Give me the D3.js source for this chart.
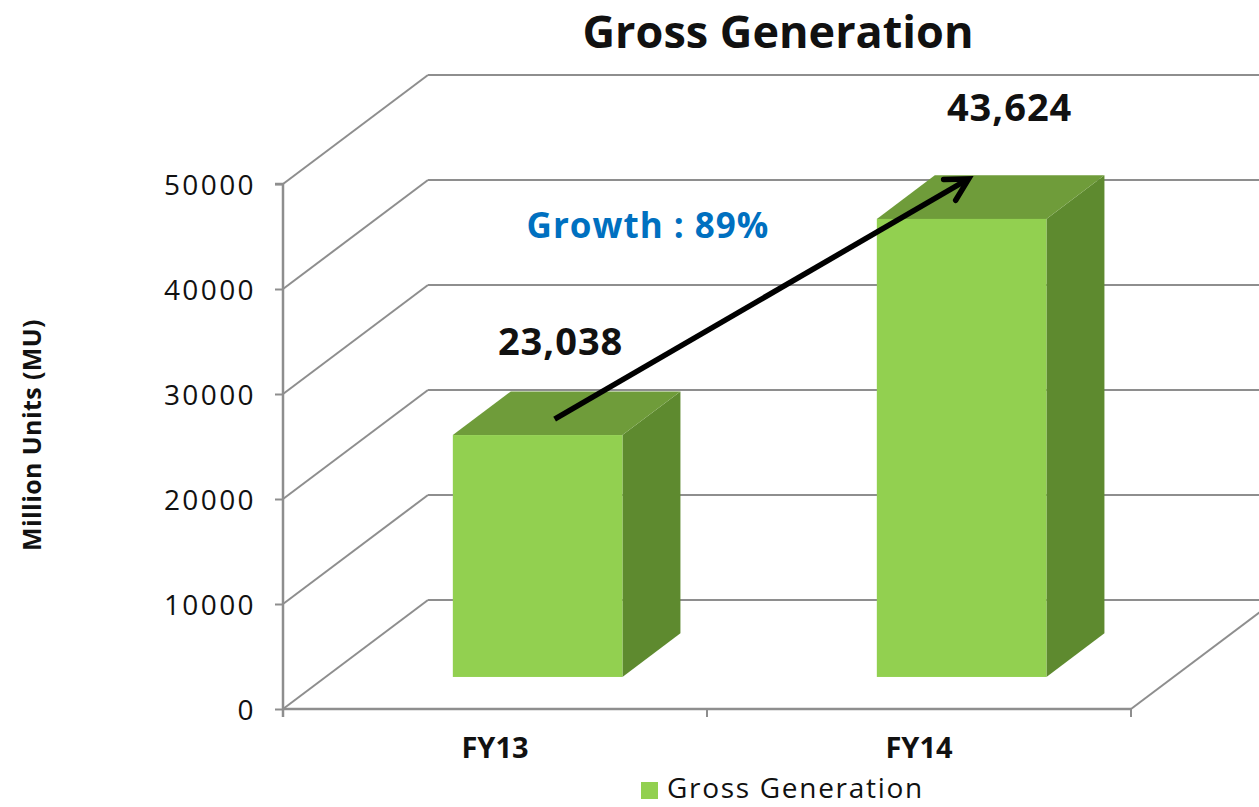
<!DOCTYPE html>
<html>
<head>
<meta charset="utf-8">
<script src="https://cdn.jsdelivr.net/npm/d3@7/dist/d3.min.js"></script>
<style>
  html, body { margin: 0; padding: 0; background: #fff; }
  svg { display: block; }
  text { font-family: "Open Sans", "DejaVu Sans", sans-serif; }
</style>
</head>
<body>
<svg id="chart" width="1259" height="807"></svg>
<script>
// ---- data ----
const categories = ["FY13", "FY14"];
const values = [23038, 43624];
const valueLabels = ["23,038", "43,624"];
const yTicks = [0, 10000, 20000, 30000, 40000, 50000];
const seriesName = "Gross Generation";
const titleText = "Gross Generation";
const yAxisTitle = "Million Units (MU)";
const growthText = "Growth : 89%";

// ---- layout ----
const W = 1259, H = 807;
const svg = d3.select("#chart");

const x = d3.scaleBand().domain(categories).range([283, 1131]).padding(0);
const y = d3.scaleLinear().domain([0, 50000]).range([709, 184]);
const DX = 145, DY = -109;           // full depth offset (oblique projection)
const f1 = 0.294, f2 = 0.694;        // bar depth front/back fractions
const barFrac = 0.4;

const gridColor = "#8e8e8e";
const frontColor = "#92D050";
const topColor = "#6f9c3a";
const sideColor = "#5e8a2f";

svg.append("defs").append("clipPath").attr("id", "c")
  .append("rect").attr("x", 0).attr("y", 0).attr("width", W).attr("height", H);

const g = svg.append("g").attr("clip-path", "url(#c)");

// back wall gridlines + side wall diagonals
const x0 = x.range()[0], x1 = x.range()[1];
yTicks.forEach(t => {
  g.append("line")
    .attr("x1", x0 + DX).attr("y1", y(t) + DY)
    .attr("x2", x1 + DX).attr("y2", y(t) + DY)
    .attr("stroke", gridColor).attr("stroke-width", 2);
  g.append("line")
    .attr("x1", x0).attr("y1", y(t))
    .attr("x2", x0 + DX).attr("y2", y(t) + DY)
    .attr("stroke", gridColor).attr("stroke-width", 2);
});

// floor front edge & right edge
g.append("line").attr("x1", x0).attr("y1", y(0)).attr("x2", x1).attr("y2", y(0))
  .attr("stroke", gridColor).attr("stroke-width", 2.5);
g.append("line").attr("x1", x1).attr("y1", y(0)).attr("x2", x1 + DX).attr("y2", y(0) + DY)
  .attr("stroke", gridColor).attr("stroke-width", 2);

// category tick marks
[x0, x0 + x.bandwidth(), x1].forEach(px => {
  g.append("line").attr("x1", px).attr("y1", y(0)).attr("x2", px).attr("y2", y(0) + 8)
    .attr("stroke", gridColor).attr("stroke-width", 2);
});

// y axis
const yAxis = d3.axisLeft(y).tickValues(yTicks).tickSize(8).tickPadding(19)
  .tickFormat(d3.format("d"));
const ya = svg.append("g").attr("transform", `translate(${x0},0)`).call(yAxis);
ya.select(".domain").attr("stroke", gridColor).attr("stroke-width", 2.5)
  .attr("d", `M-8,${y(50000)}H0V${y(0) + 8}`);
ya.selectAll(".tick line").attr("stroke", gridColor).attr("stroke-width", 2);
ya.selectAll(".tick text")
  .attr("font-size", 28).attr("fill", "#111").attr("letter-spacing", "2.4px")
  .attr("font-family", "'Open Sans', sans-serif").attr("dy", "0.36em");

// bars
const bw = x.bandwidth() * barFrac;
const ddx = (f2 - f1) * DX, ddy = (f2 - f1) * DY;
const bars = g.selectAll(".bar").data(categories.map((c, i) => ({ c, v: values[i], i })))
  .enter().append("g").attr("class", "bar");

bars.each(function (d) {
  const gg = d3.select(this);
  const xl = x(d.c) + (x.bandwidth() - bw) / 2 + DX * f1;
  const xr = xl + bw;
  const yb = y(0) + DY * f1;
  const yt = y(d.v) + DY * f1;
  // side
  gg.append("path")
    .attr("d", `M${xr},${yt}L${xr + ddx},${yt + ddy}L${xr + ddx},${yb + ddy}L${xr},${yb}Z`)
    .attr("fill", sideColor);
  // top
  gg.append("path")
    .attr("d", `M${xl},${yt}L${xr},${yt}L${xr + ddx},${yt + ddy}L${xl + ddx},${yt + ddy}Z`)
    .attr("fill", topColor);
  // front
  gg.append("rect").attr("x", xl).attr("y", yt).attr("width", bw).attr("height", yb - yt)
    .attr("fill", frontColor);
});

// category labels
svg.selectAll(".cat").data(categories).enter().append("text")
  .attr("x", d => x(d) + x.bandwidth() / 2)
  .attr("y", 758)
  .attr("text-anchor", "middle")
  .attr("font-size", 29).attr("font-weight", "bold").attr("fill", "#111")
  .text(d => d);

// data labels (manually placed above bars in the original)
const labelDx = [23, 48];
const labelDy = [-80, -98];
svg.selectAll(".vlab").data(values).enter().append("text")
  .attr("x", (d, i) => x(categories[i]) + x.bandwidth() / 2 + DX * f1 + labelDx[i])
  .attr("y", (d, i) => y(d) + DY * f1 + labelDy[i])
  .attr("text-anchor", "middle")
  .attr("font-size", 38).attr("font-weight", "bold").attr("fill", "#111")
  .attr("letter-spacing", "1px")
  .text((d, i) => valueLabels[i]);

// growth arrow
const topCenter = i => {
  const xl = x(categories[i]) + (x.bandwidth() - bw) / 2 + DX * f1;
  return [xl + bw / 2, y(values[i]) + DY * f1];
};
const s = topCenter(0), e = topCenter(1);
const sx = s[0] + 17, sy = s[1] - 16;
const ex = e[0] + 7, ey = e[1] - 40;
svg.append("line").attr("x1", sx).attr("y1", sy).attr("x2", ex - 4).attr("y2", ey + 2.3)
  .attr("stroke", "#000").attr("stroke-width", 5.5);
const ang = Math.atan2(ey - sy, ex - sx);
const hl = 25, ha = 0.5;
const p1 = [ex - hl * Math.cos(ang - ha), ey - hl * Math.sin(ang - ha)];
const p2 = [ex - hl * Math.cos(ang + ha), ey - hl * Math.sin(ang + ha)];
svg.append("path")
  .attr("d", `M${p1[0]},${p1[1]}L${ex},${ey}L${p2[0]},${p2[1]}`)
  .attr("fill", "none").attr("stroke", "#000").attr("stroke-width", 5.5)
  .attr("stroke-linejoin", "miter").attr("stroke-linecap", "round");

// growth text
svg.append("text").attr("x", 648).attr("y", 238).attr("text-anchor", "middle")
  .attr("font-size", 35).attr("font-weight", "bold").attr("fill", "#0070C0")
  .attr("letter-spacing", "1px")
  .text(growthText);

// title
svg.append("text").attr("x", 778).attr("y", 48).attr("text-anchor", "middle")
  .attr("font-family", "Lato, 'Open Sans', sans-serif")
  .attr("font-size", 45).attr("font-weight", "bold").attr("fill", "#111")
  .text(titleText);

// y axis title
svg.append("text").attr("transform", "translate(41,435) rotate(-90)")
  .attr("text-anchor", "middle")
  .attr("font-size", 25).attr("font-weight", "bold").attr("fill", "#111")
  .attr("letter-spacing", "0.4px")
  .text(yAxisTitle);

// legend
const lg = svg.append("g");
lg.append("rect").attr("x", 641).attr("y", 782).attr("width", 17).attr("height", 17)
  .attr("fill", frontColor);
lg.append("text").attr("x", 667).attr("y", 798)
  .attr("font-size", 28).attr("fill", "#111").attr("letter-spacing", "1.7px")
  .text(seriesName);
</script>
</body>
</html>
